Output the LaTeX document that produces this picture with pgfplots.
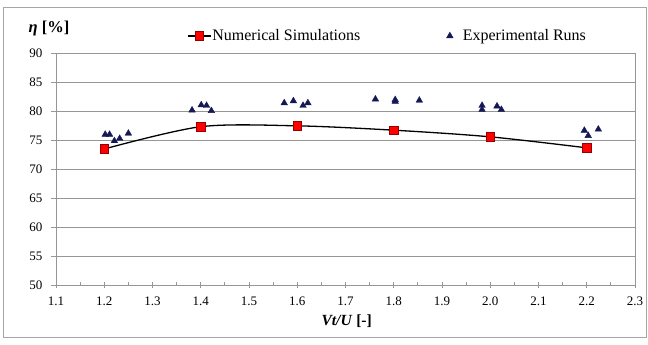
\documentclass[border=0pt]{standalone}
\usepackage{fontspec}
\setmainfont{Liberation Serif}
\usepackage{pgfplots}
\pgfplotsset{compat=1.18}
\definecolor{gridgray}{RGB}{150,150,150}
\definecolor{navy}{RGB}{20,25,85}
\definecolor{darkred}{RGB}{150,0,0}
\pgfplotsset{
  numlegend/.style={legend image code/.code={\draw[mark repeat=2, mark phase=2, ##1] plot coordinates {(0bp,0bp) (11.5bp,0bp) (23bp,0bp)};}},
  explegend/.style={legend image code/.code={\path[draw=none, fill=none] (-3.5bp,0bp) -- (12bp,0bp); \draw[##1] plot coordinates {(0bp,0bp)};}},
}
\begin{document}
\begin{tikzpicture}
\useasboundingbox (-56bp,-60bp) rectangle (592bp,285bp);
\draw[gray!70, line width=0.8bp] (-53bp,-52bp) rectangle (590bp,278bp);
\begin{axis}[
  at={(0,0)}, anchor=origin,
  scale only axis, width=579bp, height=231.5bp,
  xmin=1.1, xmax=2.3, ymin=50, ymax=90,
  xtick={1.1,1.2,...,2.31}, ytick={50,55,...,90},
  minor x tick num=1,
  xticklabel={\pgfmathprintnumber[fixed, fixed zerofill, precision=1, assume math mode=true]{\tick}},
  yticklabel={\pgfmathprintnumber[assume math mode=true]{\tick}},
  tick label style={font=\fontsize{13bp}{15bp}\selectfont},
  xticklabel style={yshift=-6bp},
  yticklabel style={xshift=-5bp},
  axis line style={gridgray, line width=0.8bp},
  xtick pos=bottom, ytick pos=left,
  major tick length=5bp,
  x tick style={gridgray, line width=0.8bp},
  y tick style={gridgray, line width=0.8bp},
  xtick align=center, ytick align=outside,
  minor x tick style={gridgray, line width=0.8bp, yshift=1.5bp},
  minor tick length=3bp,
  ymajorgrids, grid style={gridgray, line width=0.8bp},
  xlabel={\textbf{\textit{Vt/U} [-]}},
  xlabel style={font=\fontsize{15.5bp}{17bp}\selectfont, at={(rel axis cs:0.502,0)}, anchor=center, yshift=-36bp},
  legend columns=2,
  legend style={draw=none, fill=none, at={(rel axis cs:0.5717,1.076)}, anchor=center,
    font=\fontsize{16bp}{18bp}\selectfont, nodes={inner xsep=1bp},
    /tikz/every even column/.append style={column sep=85bp}},
  legend cell align=left,
  clip=false,
]
\addplot[black, line width=1.3bp, smooth, mark=square*, mark size=4.3bp,
  mark options={fill=red, draw=darkred, line width=0.5bp}, numlegend]
  coordinates {(1.2,73.5) (1.4,77.35) (1.6,77.5) (1.8,76.75) (2.0,75.6) (2.2,73.7)};
\addlegendentry{Numerical Simulations}
\addplot[only marks, mark=triangle*, mark size=3.8bp, mark options={fill=navy, draw=navy}, explegend]
  coordinates {
  (1.202,76.0) (1.211,76.0) (1.221,74.9) (1.232,75.3) (1.250,76.2)
  (1.382,80.2) (1.401,81.1) (1.412,81.0) (1.422,80.1)
  (1.573,81.45) (1.592,81.8) (1.612,81.0) (1.622,81.45) (1.762,82.1)
  (1.803,81.7) (1.803,82.0) (1.853,81.9)
  (1.983,81.0) (1.983,80.3) (2.014,80.9) (2.023,80.3)
  (2.195,76.7) (2.203,75.8) (2.224,76.9)};
\addlegendentry{Experimental Runs}
\node[font=\fontsize{16.5bp}{18bp}\selectfont\bfseries] at (axis cs:1.1,90) [xshift=-7bp, yshift=25bp] {\textit{η} [\%]};
\end{axis}
\end{tikzpicture}
\end{document}
